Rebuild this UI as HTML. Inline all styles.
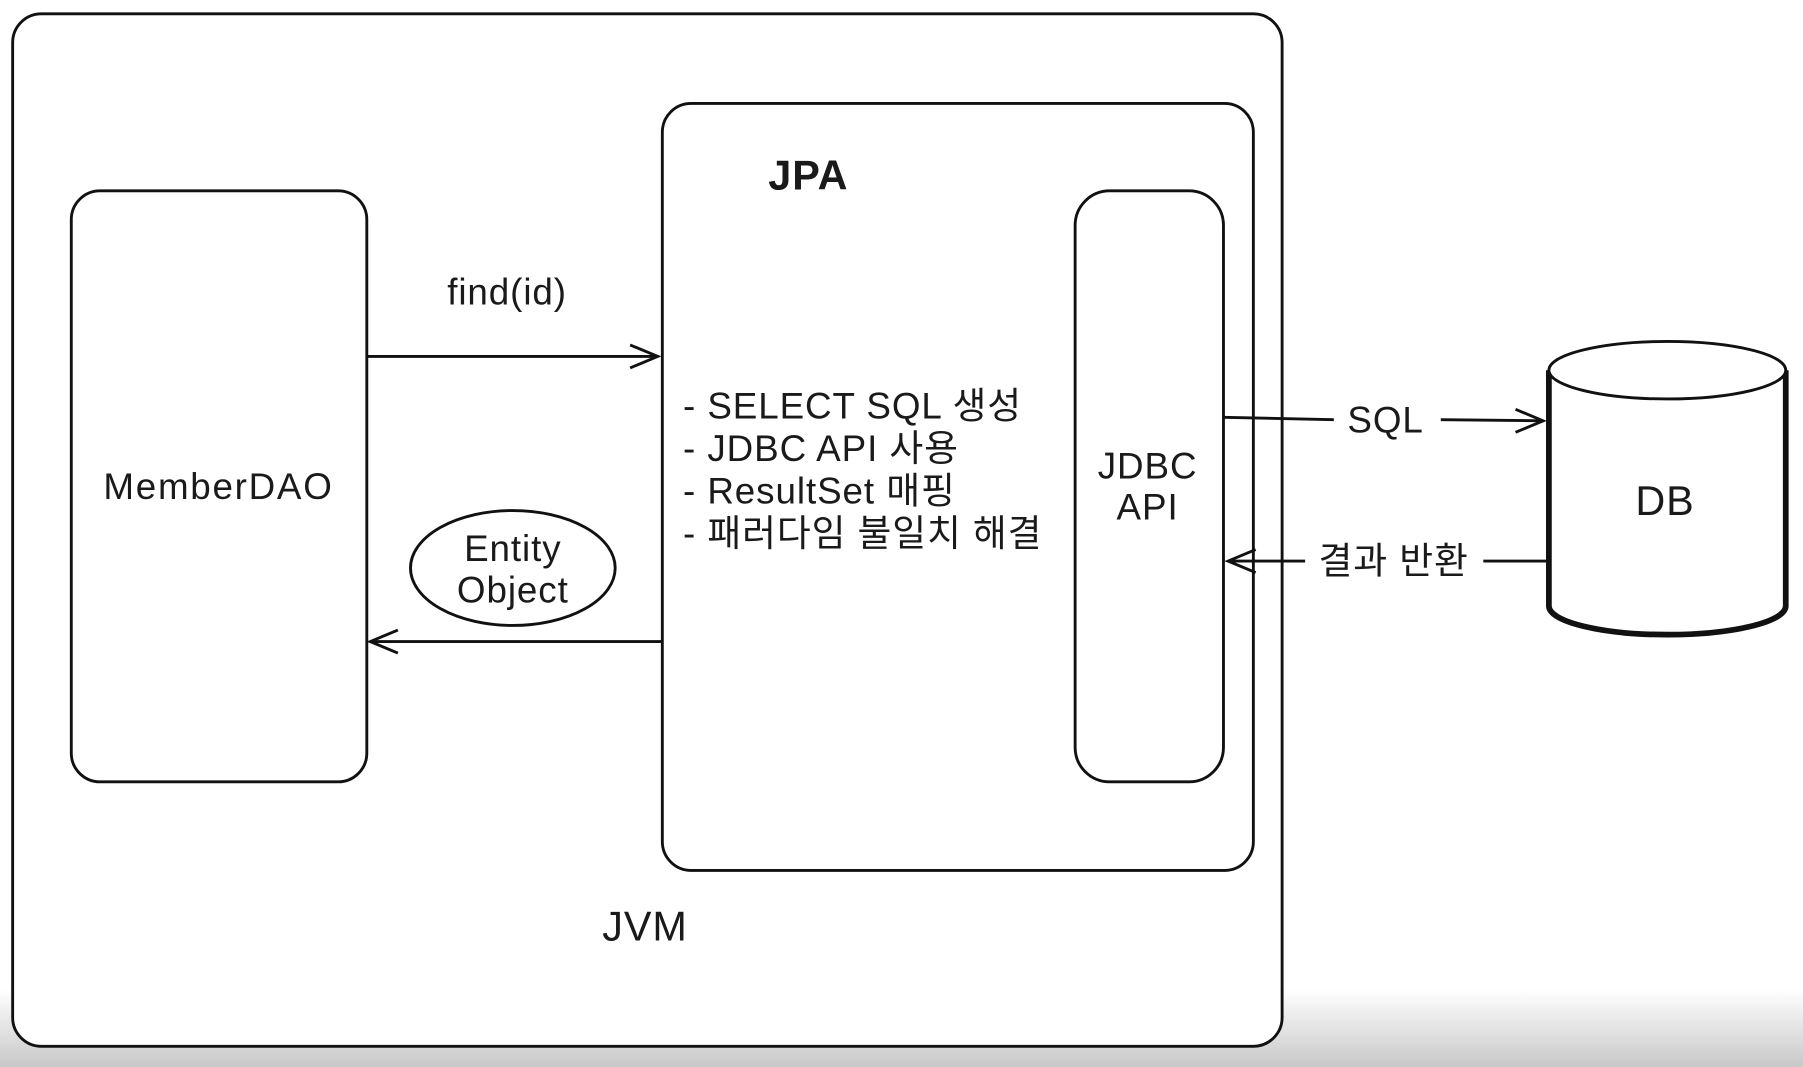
<!DOCTYPE html>
<html><head><meta charset="utf-8"><style>
html,body{margin:0;padding:0;background:#fff;width:1803px;height:1067px;overflow:hidden}
svg{display:block}
text{font-family:"Liberation Sans","Noto Sans CJK KR",sans-serif;fill:#1a1a1a;letter-spacing:0.8px}
</style></head><body>
<svg width="1803" height="1067" viewBox="0 0 1568 928" preserveAspectRatio="none" xmlns="http://www.w3.org/2000/svg">
<defs>
<linearGradient id="g" x1="0" y1="0" x2="0" y2="1">
<stop offset="0" stop-color="#ffffff"/><stop offset="1" stop-color="#c8c8c8"/>
</linearGradient>
</defs>
<rect x="0" y="0" width="1568" height="928" fill="#fff"/>
<rect x="0" y="860" width="1568" height="68" fill="url(#g)"/>
<g fill="#fff" stroke="#111" stroke-width="2.5">
<rect x="11" y="12" width="1104" height="898" rx="25"/>
<rect x="62" y="166" width="257" height="514" rx="25"/>
<rect x="576" y="90" width="514" height="667" rx="25"/>
<rect x="935" y="166" width="129" height="514" rx="30"/>
<ellipse cx="446" cy="494" rx="89" ry="50"/>
</g>
<g stroke="#111" stroke-width="2.5" fill="none">
<line x1="319" y1="310" x2="572" y2="310"/><polyline points="548,300 572,310 548,320"/>
<line x1="576" y1="558" x2="322" y2="558"/><polyline points="346,548 322,558 346,568"/>
<line x1="1064" y1="363" x2="1160" y2="365"/>
<line x1="1253" y1="365" x2="1342" y2="366"/><polyline points="1318,356 1342,366 1318,376"/>
<line x1="1345" y1="488" x2="1290" y2="488"/>
<line x1="1135" y1="488" x2="1068" y2="488"/><polyline points="1092,478 1068,488 1092,498"/>
</g>
<path d="M1347,322 L1347,527 A103,25 0 0 0 1553,527 L1553,322" fill="#fff" stroke="#111" stroke-width="5"/>
<ellipse cx="1450" cy="322" rx="103" ry="25" fill="#fff" stroke="#111" stroke-width="2.5"/>
<text x="190" y="434" font-size="32" text-anchor="middle" style="letter-spacing:1.5px">MemberDAO</text>
<text x="703" y="165" font-size="36" font-weight="bold" text-anchor="middle">JPA</text>
<text x="998" y="416" font-size="32" text-anchor="middle">JDBC</text>
<text x="998" y="452" font-size="32" text-anchor="middle">API</text>
<text x="441" y="265" font-size="32" text-anchor="middle">find(id)</text>
<text x="446" y="488" font-size="32" text-anchor="middle">Entity</text>
<text x="446" y="524" font-size="32" text-anchor="middle">Object</text>
<g font-size="32">
<text x="594" y="364">- SELECT SQL 생성</text>
<text x="594" y="401">- JDBC API 사용</text>
<text x="594" y="438">- ResultSet 매핑</text>
<text x="594" y="475">- 패러다임 불일치 해결</text>
</g>
<text x="1205" y="376" font-size="32" text-anchor="middle">SQL</text>
<text x="1212" y="499" font-size="32" text-anchor="middle">결과 반환</text>
<text x="1448" y="448" font-size="36" text-anchor="middle">DB</text>
<text x="561" y="818" font-size="36" text-anchor="middle">JVM</text>
</svg>
</body></html>
